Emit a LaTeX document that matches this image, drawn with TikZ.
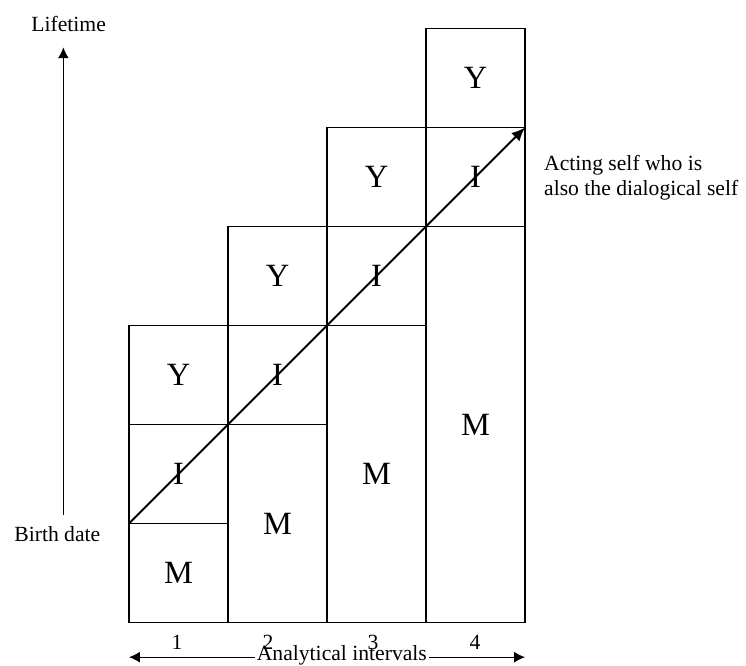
\documentclass[tikz,border=0pt]{standalone}
\usepackage{fontspec}
\setmainfont{Liberation Serif}
\usepackage{tikz}
\usetikzlibrary{arrows.meta}

\tikzset{
	cell/.style={line width=0.6pt},
	letter/.style={font=\fontsize{18}{20}\selectfont, inner sep=0pt},
	label/.style={font=\fontsize{12}{14}\selectfont, inner sep=0pt},
	tip/.style={-{Latex[length=6pt,width=6pt]}},
	bigtip/.style={-{Latex[length=7.5pt,width=6.5pt]}},
	tips/.style={{Latex[length=6pt,width=6pt]}-{Latex[length=6pt,width=6pt]}}
}

\begin{document}
\begin{tikzpicture}[x=1.93cm, y=1.93cm]
	\useasboundingbox (-1.303,-0.429) rectangle (6.232,6.288);
	
	% columns: M below, I in the middle, Y on top
	\foreach \c in {0,...,3}
	{
		\draw [cell] (\c,0) rectangle (\c+1,\c+1);
		\draw [cell] (\c,\c+1) rectangle (\c+1,\c+2);
		\draw [cell] (\c,\c+2) rectangle (\c+1,\c+3);
		\node [letter] (m\c) at ({\c+0.5},{(\c+1)/2}) {M};
		\node [letter] (i\c) at ({\c+0.5},{\c+1.5}) {I};
		\node [letter] (y\c) at ({\c+0.5},{\c+2.5}) {Y};
	}
	
	% the acting self
	\coordinate (start) at (0,1);
	\coordinate (end) at (4,5);
	\draw [bigtip, line width=1.1pt] (start) -- (end);
	\node [label, anchor=west, align=left] (acting) at (4.19,4.49) {Acting self who is\\also the dialogical self};
	
	% lifetime axis
	\node [label] (birth) at (-0.724,0.89) {Birth date};
	\node [label] (life) at (-0.61,6.045) {Lifetime};
	\coordinate (tbot) at (-0.663,1.086);
	\coordinate (ttop) at (-0.663,5.81);
	\draw [tip, line width=0.6pt] (tbot) -- (ttop);
	
	% intervals axis
	\coordinate (ileft) at (0,-0.35);
	\coordinate (iright) at (4,-0.35);
	\draw [tips, line width=0.6pt] (ileft) -- (iright);
	\node [label, anchor=base, fill=white, inner sep=1pt] (intervals) at (2.15,-0.385) {Analytical intervals};
	\foreach \x/\n in {0.485/1, 1.404/2, 2.465/3, 3.495/4}
	{
		\node [label, anchor=base] (n\n) at (\x,-0.268) {\n};
	}
\end{tikzpicture}
\end{document}
